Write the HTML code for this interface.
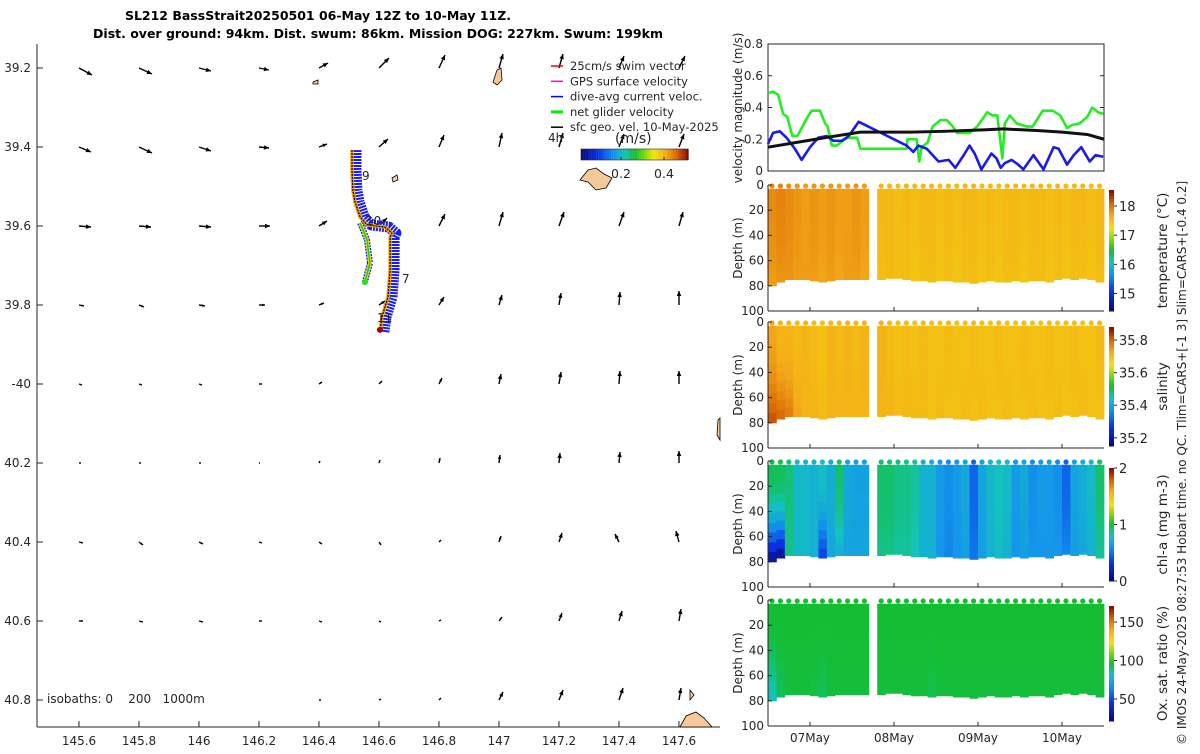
<!DOCTYPE html>
<html><head><meta charset="utf-8">
<style>
body{margin:0;background:#fff;width:1200px;height:750px;overflow:hidden;font-family:"DejaVu Sans","Liberation Sans",sans-serif;}
svg text{font-family:"DejaVu Sans","Liberation Sans",sans-serif;fill:#262626;}
</style></head>
<body>
<svg id="fig" width="1200" height="750" viewBox="0 0 1200 750" xmlns="http://www.w3.org/2000/svg">
<text x="318" y="20" font-size="12.5" font-weight="bold" text-anchor="middle" style="fill:#000">SL212 BassStrait20250501 06-May 12Z to 10-May 11Z.</text>
<text x="378" y="38" font-size="12.5" font-weight="bold" text-anchor="middle" style="fill:#000">Dist. over ground: 94km. Dist. swum: 86km. Mission DOG: 227km. Swum: 199km</text>
<g id="map"></g>
<g id="vel"></g>
<g id="heat"></g>
<text transform="translate(1186,745) rotate(-90)" font-size="12">© IMOS 24-May-2025 08:27:53 Hobart time. no QC. Tlim=CARS+[-1 3] Slim=CARS+[-0.4 0.2]</text>
</svg>
<script>
// ===== Map data =====
const gridLons=[145.6,145.8,146,146.2,146.4,146.6,146.8,147,147.2,147.4,147.6];
const gridLats=[39.2,39.4,39.6,39.8,40,40.2,40.4,40.6,40.8];
const arrowU=[
[13,13,12,10,9,10,6,4,4,5,6],
[12,13,12,10,8,9,5,3,4,5,5],
[12,12,12,11,8,8,6,4,5,5,4],
[5,5,6,6,5,6,5,3,2,1,0],
[3,3,3,3,3,3,3,2,2,1,0],
[2,2,2,1,1,1,1,1,1,1,0],
[4,4,4,3,3,2,2,2,3,-4,-3],
[4,4,4,3,3,2,2,3,3,3,2],
[0,0,0,0,2,2,2,4,4,4,2]];
const arrowV=[
[-7,-6,-3,-2,5,10,13,14,14,12,12],
[-5,-6,-4,-1,3,8,12,14,14,13,13],
[-1,-1,-1,0,5,8,12,14,14,14,14],
[-1,-2,-1,0,2,4,8,10,12,13,14],
[-1,-1,-1,0,2,3,6,10,12,13,13],
[0,0,0,0,2,3,5,8,10,11,12],
[-1,-3,-2,-1,-2,-3,2,6,9,8,11],
[0,-1,-1,0,-1,-1,1,4,8,10,12],
[0,0,0,0,0,1,2,8,10,12,12]];
const trackLon=[146.603,146.61,146.63,146.637,146.637,146.643,146.62,146.56,146.537,146.52,146.513,146.51,146.51];
const trackLat=[39.868,39.83,39.78,39.711,39.628,39.618,39.603,39.597,39.577,39.539,39.509,39.458,39.408];
const branchLon=[146.537,146.56,146.57,146.553];
const branchLat=[39.592,39.635,39.694,39.742];
const xTicks=[145.6,145.8,146,146.2,146.4,146.6,146.8,147,147.2,147.4,147.6];
const xTickLabels=["145.6","145.8","146","146.2","146.4","146.6","146.8","147","147.2","147.4","147.6"];
const yTickLabels=["39.2","39.4","39.6","39.8","-40","40.2","40.4","40.6","40.8"];
// ===== Velocity data =====
const greenT=[0,0.06,0.12,0.18,0.23,0.29,0.35,0.40,0.46,0.52,0.62,0.68,0.71,0.76,0.82,0.89,0.95,1.06,1.10,1.65,1.66,1.77,1.80,1.83,1.90,1.96,2.05,2.13,2.20,2.25,2.40,2.49,2.61,2.67,2.73,2.79,2.82,2.88,2.96,3.08,3.15,3.27,3.39,3.48,3.56,3.62,3.71,3.80,3.86,3.93,3.99];
const greenV=[0.49,0.5,0.48,0.36,0.34,0.22,0.22,0.27,0.33,0.38,0.38,0.30,0.28,0.16,0.16,0.19,0.21,0.21,0.14,0.14,0.20,0.20,0.06,0.15,0.18,0.28,0.32,0.32,0.28,0.24,0.24,0.28,0.37,0.35,0.35,0.08,0.30,0.35,0.30,0.28,0.28,0.38,0.38,0.35,0.27,0.29,0.30,0.34,0.40,0.37,0.36];
const blueT=[0,0.06,0.14,0.22,0.32,0.40,0.50,0.60,0.70,0.78,0.88,0.96,1.08,1.65,1.73,1.79,1.89,2.03,2.15,2.23,2.33,2.40,2.46,2.54,2.66,2.72,2.77,2.82,2.90,2.98,3.04,3.16,3.28,3.40,3.46,3.56,3.64,3.73,3.83,3.90,3.99];
const blueV=[0.17,0.24,0.25,0.21,0.14,0.07,0.15,0.21,0.22,0.19,0.19,0.22,0.31,0.16,0.12,0.16,0.14,0.06,0.07,0.02,0.10,0.16,0.11,0.01,0.11,0.08,0.02,0.05,0.07,0.04,0.01,0.10,0.01,0.15,0.14,0.04,0.10,0.15,0.06,0.10,0.09];
const blackT=[0,0.45,0.8,1.1,1.7,2.1,2.6,2.8,3.2,3.5,3.8,4];
const blackV=[0.15,0.19,0.22,0.245,0.245,0.25,0.26,0.265,0.255,0.245,0.23,0.2];
const velTicks=[0,0.2,0.4,0.6,0.8];
// ===== Section data (profile times in days since 06-May 12:00, 0.1 d steps) =====
const profT=[0,0.1,0.2,0.3,0.4,0.5,0.6,0.7,0.8,0.9,1.0,1.1,1.3,1.4,1.5,1.6,1.7,1.8,1.9,2.0,2.1,2.2,2.3,2.4,2.5,2.6,2.7,2.8,2.9,3.0,3.1,3.2,3.3,3.4,3.5,3.6,3.7,3.8,3.9];
const bottomDepth=[80,77,75,75,75,76,77,76,75,75,75,75,75,74,74,75,76,76,77,76,76,77,77,78,77,76,77,77,76,77,76,76,77,75,74,75,74,75,77];
const tempSurf=[17.9,17.95,17.9,17.85,17.8,17.85,17.8,17.85,17.8,17.8,17.85,17.8,17.6,17.6,17.55,17.6,17.55,17.6,17.6,17.55,17.6,17.55,17.6,17.6,17.55,17.6,17.55,17.6,17.6,17.55,17.6,17.6,17.55,17.6,17.55,17.6,17.6,17.55,17.6];
const tempDeep=[17.8,17.85,17.85,17.8,17.8,17.8,17.75,17.8,17.75,17.8,17.8,17.75,17.55,17.6,17.55,17.55,17.5,17.55,17.55,17.5,17.55,17.5,17.55,17.55,17.5,17.55,17.5,17.55,17.55,17.5,17.55,17.55,17.5,17.55,17.5,17.55,17.55,17.5,17.55];
const salSurf=[35.74,35.72,35.72,35.71,35.72,35.71,35.7,35.72,35.71,35.72,35.71,35.72,35.72,35.71,35.7,35.71,35.7,35.71,35.7,35.7,35.71,35.7,35.7,35.71,35.7,35.7,35.71,35.7,35.7,35.71,35.7,35.7,35.71,35.7,35.7,35.71,35.7,35.7,35.71];
const salDeep=[35.82,35.8,35.78,35.74,35.72,35.72,35.71,35.72,35.72,35.72,35.72,35.72,35.72,35.72,35.71,35.71,35.71,35.71,35.7,35.71,35.7,35.7,35.71,35.7,35.71,35.7,35.7,35.71,35.7,35.7,35.71,35.7,35.7,35.71,35.7,35.7,35.71,35.7,35.7];
const chlSurf=[0.95,0.95,0.9,0.75,0.75,0.72,0.78,0.7,0.92,0.68,0.65,0.65,0.92,0.92,0.88,0.88,0.85,0.72,0.72,0.62,0.58,0.62,0.68,0.45,0.66,0.75,0.8,0.76,0.62,0.68,0.58,0.62,0.62,0.58,0.45,0.66,0.7,0.76,0.92];
const chlDeep=[0.1,0.1,0.88,0.75,0.75,0.72,0.35,0.68,0.72,0.66,0.66,0.66,0.88,0.88,0.85,0.85,0.8,0.72,0.72,0.6,0.55,0.6,0.64,0.5,0.64,0.72,0.76,0.72,0.6,0.64,0.6,0.6,0.6,0.6,0.55,0.64,0.68,0.72,0.85];
const oxSurf=[96,96,96,96,96,96,96,96,96,96,96,96,96,96,96,96,96,96,96,96,96,96,96,96,96,96,96,96,96,96,96,96,96,96,96,96,96,96,96];
const oxDeep=[80,92,95,95,95,94,92,95,95,95,95,95,95,95,95,95,95,95,93,95,95,95,95,95,95,95,95,95,95,95,95,95,95,95,95,95,95,95,95];
const tempTicks=[15,16,17,18], salTicks=[35.2,35.4,35.6,35.8], chlTicks=[0,1,2], oxTicks=[50,100,150];
const dateTicks=[0.5,1.5,2.5,3.5], dateLabels=["07May","08May","09May","10May"];
const depthTicks=[0,20,40,60,80,100];

const NS="http://www.w3.org/2000/svg";
function mk(parent,tag,attrs,txt){const e=document.createElementNS(NS,tag);for(const k in attrs)e.setAttribute(k,attrs[k]);if(txt!==undefined)e.textContent=txt;parent.appendChild(e);return e;}
const CS=[[0,[10,10,130]],[0.15,[10,50,230]],[0.3,[20,150,235]],[0.4,[20,195,190]],[0.5,[20,190,50]],[0.6,[130,220,10]],[0.68,[240,230,10]],[0.8,[245,170,25]],[0.9,[215,100,5]],[1,[140,15,5]]];
function jet(v){v=Math.max(0,Math.min(1,v));for(let i=1;i<CS.length;i++){if(v<=CS[i][0]){const a=CS[i-1],b=CS[i];const f=(v-a[0])/(b[0]-a[0]);const c=a[1].map((x,k)=>Math.round(x+(b[1][k]-x)*f));return `rgb(${c[0]},${c[1]},${c[2]})`;}}return 'rgb(140,15,5)';}

// ===== Map =====
const map=document.getElementById('map');
const mx=lon=>79+(lon-145.6)*300, my=lat=>68+(lat-39.2)*395;
mk(map,'line',{x1:37,y1:44,x2:37,y2:727,stroke:'#262626','stroke-width':1});
mk(map,'line',{x1:37,y1:727,x2:720,y2:727,stroke:'#262626','stroke-width':1});
xTicks.forEach((t,i)=>{const x=mx(t);mk(map,'line',{x1:x,y1:727,x2:x,y2:721,stroke:'#262626'});
 const tl=mk(map,'text',{x:x,y:745,'font-size':12,'text-anchor':'middle'},xTickLabels[i]);});
gridLats.forEach((t,i)=>{const y=my(t);mk(map,'line',{x1:37,y1:y,x2:43,y2:y,stroke:'#262626'});
 const tl=mk(map,'text',{x:31,y:y+4,'font-size':12,'text-anchor':'end'},yTickLabels[i]);});
const lands=[[[493,82],[497,70],[501,68],[502,80],[497,85]],[[580,180],[588,170],[596,168],[604,174],[612,178],[606,188],[596,190],[588,182]],[[680,727],[686,716],[696,712],[704,718],[712,727]],[[690,690],[694,695],[690,700]],[[718,420],[720,418],[720,440],[717,435]],[[392,178],[397,175],[398,180],[393,182]],[[313,82],[318,80],[318,84],[313,84]]];
lands.forEach(p=>{const e=mk(map,'polygon',{points:p.map(q=>q.join(',')).join(' '),fill:'#f6c99b',stroke:'#000','stroke-width':0.8});});
gridLats.forEach((lat,r)=>gridLons.forEach((lon,c)=>{
 const u=arrowU[r][c],v=arrowV[r][c];if(u===0&&v===0)return;
 const x0=mx(lon),y0=my(lat),x1=x0+u,y1=y0-v;const L=Math.hypot(u,v),ux=u/L,uy=-v/L,h=Math.min(5,L*0.5);
 const g=mk(map,'g',{});
 mk(g,'line',{x1:x0,y1:y0,x2:x1,y2:y1,stroke:'#000','stroke-width':1.4});
 mk(g,'polygon',{points:`${x1},${y1} ${x1-h*ux+h*0.45*uy},${y1-h*uy-h*0.45*ux} ${x1-h*ux-h*0.45*uy},${y1-h*uy+h*0.45*ux}`,fill:'#000'});
}));
const tp=trackLon.map((l,i)=>`${mx(l)},${my(trackLat[i])}`).join(' ');
const bp=branchLon.map((l,i)=>`${mx(l)},${my(branchLat[i])}`).join(' ');
let e;
e=mk(map,'polyline',{points:tp,fill:'none',stroke:'#1a1aff','stroke-width':11,'stroke-linejoin':'round','transform':'translate(4,0)','stroke-dasharray':'2,1'});
e=mk(map,'polyline',{points:bp,fill:'none',stroke:'#1a1aff','stroke-width':6,'stroke-linejoin':'round','stroke-dasharray':'2,1'});
e=mk(map,'polyline',{points:tp,fill:'none',stroke:'#f5a300','stroke-width':3.5,'stroke-linejoin':'round'});
e=mk(map,'polyline',{points:bp,fill:'none',stroke:'#e0e000','stroke-width':3.5});
mk(map,'polyline',{points:tp,fill:'none',stroke:'#000','stroke-width':1.2,'stroke-dasharray':'2,1'});
mk(map,'polyline',{points:bp,fill:'none',stroke:'#22cc22','stroke-width':1.5});
mk(map,'circle',{cx:mx(trackLon[0]),cy:my(trackLat[0])-2,r:3,fill:'#b00000'});
mk(map,'circle',{cx:mx(branchLon[3]),cy:my(branchLat[3]),r:3,fill:'#22dd22'});
[["9",362,180],["10",366,225],["7",402,283],["11",377,322]].forEach(d=>{const t=mk(map,'text',{x:d[1],y:d[2],'font-size':12},d[0]);});
const leg=[["25cm/s swim vector","#ff0000"],["GPS surface velocity","#ff00ff"],["dive-avg current veloc.","#0000ff"],["net glider velocity","#00ee00"],["sfc geo. vel. 10-May-2025","#000"]];
leg.forEach((l,i)=>{const y=66+i*15.3;const g=mk(map,'g',{});
 mk(g,'line',{x1:551,y1:y,x2:563,y2:y,stroke:l[1],'stroke-width':i==3?3:1.5});mk(g,'text',{x:570,y:y+4,'font-size':11.5},l[0]);});
e=mk(map,'text',{x:548,y:142,'font-size':12},"4h");
e=mk(map,'text',{x:615,y:143,'font-size':14},"(m/s)");
for(let i=0;i<50;i++){mk(map,'rect',{x:581+i*2.15,y:149,width:2.3,height:11,fill:jet(i/49)});}
mk(map,'rect',{x:581,y:149,width:107,height:11,fill:'none',stroke:'#262626','stroke-width':0.6});
[[0.2,621],[0.4,664]].forEach(d=>{mk(map,'line',{x1:d[1],y1:160,x2:d[1],y2:157,stroke:'#262626'});const t=mk(map,'text',{x:d[1],y:178,'font-size':12.5,'text-anchor':'middle'},String(d[0]));});
e=mk(map,'text',{x:47,y:703,'font-size':12,'xml:space':'preserve',style:'white-space:pre'},"isobaths: 0    200   1000m");

// ===== Velocity panel =====
const vel=document.getElementById('vel');
const X0=768,X1=1104,tx=t=>X0+t*84;
const vy=v=>171-v*(127/0.8);
mk(vel,'rect',{x:X0,y:44,width:X1-X0,height:127,fill:'none',stroke:'#262626','stroke-width':1});
velTicks.forEach(t=>{const y=vy(t);mk(vel,'line',{x1:X0,y1:y,x2:X0+4,y2:y,stroke:'#262626'});mk(vel,'line',{x1:X1,y1:y,x2:X1-4,y2:y,stroke:'#262626'});
 const tl=mk(vel,'text',{x:X0-5,y:y+4,'font-size':12,'text-anchor':'end'},String(t));});
e=mk(vel,'text',{transform:'translate(742,108) rotate(-90)','font-size':12,'text-anchor':'middle'},"velocity magnitude (m/s)");
function line(T,V,col,w,name){const el=mk(vel,'polyline',{points:T.map((t,i)=>`${tx(t)},${vy(V[i])}`).join(' '),fill:'none',stroke:col,'stroke-width':w,'stroke-linejoin':'round'});}
line(greenT,greenV,'#22ee22',2.6,'net-glider-velocity-line');
line(blueT,blueV,'#1a1aee',2.6,'dive-avg-current-line');
line(blackT,blackV,'#111',3,'sfc-geo-velocity-line');

// ===== Section panels =====
const heat=document.getElementById('heat');
const panels=[
 {top:185,name:'temperature',s:tempSurf,d:tempDeep,lo:14.4,hi:18.55,ticks:tempTicks,label:"temperature (°C)",cb:[190,311]},
 {top:322,name:'salinity',s:salSurf,d:salDeep,lo:35.15,hi:35.88,ticks:salTicks,label:"salinity",cb:[327,446]},
 {top:461,name:'chl-a',s:chlSurf,d:chlDeep,lo:0,hi:2,ticks:chlTicks,label:"chl-a (mg m-3)",cb:[468,581]},
 {top:600,name:'oxygen',s:oxSurf,d:oxDeep,lo:21.4,hi:170.8,ticks:oxTicks,label:"Ox. sat. ratio (%)",cb:[606,721]}];
panels.forEach(p=>{
 const g=mk(heat,'g',{});
 const H=126,dy=d=>p.top+d*H/100;
 const norm=v=>(v-p.lo)/(p.hi-p.lo);
 profT.forEach((t,i)=>{
  const next=(i+1<profT.length&&profT[i+1]-t<0.15)?profT[i+1]:t+0.1;
  const x=tx(t),w=Math.min(tx(next),tx(4))-x+0.4;const bd=bottomDepth[i];const n=10;
  for(let k=0;k<n;k++){const d0=3+k*(bd-3)/n;const f=k/(n-1);
   const c=mk(g,'rect',{x:x,y:dy(d0),width:w,height:(bd-3)/n*H/100+0.5,fill:jet(norm(p.s[i]+(p.d[i]-p.s[i])*f*f))});
   }
  const cx=tx(t)+4;if(cx<tx(4)) mk(g,'circle',{cx:cx,cy:dy(0)+1,r:2.6,fill:jet(norm(p.s[i]))});
 });
 mk(g,'line',{x1:X0,y1:p.top,x2:X0,y2:p.top+H,stroke:'#262626'});
 mk(g,'line',{x1:X0,y1:p.top+H,x2:X1,y2:p.top+H,stroke:'#262626'});
 depthTicks.forEach(d=>{mk(g,'line',{x1:X0,y1:dy(d),x2:X0+4,y2:dy(d),stroke:'#262626'});
  const tl=mk(g,'text',{x:X0-4,y:dy(d)+4,'font-size':12,'text-anchor':'end'},String(d));});
 dateTicks.forEach(t=>mk(g,'line',{x1:tx(t),y1:p.top+H,x2:tx(t),y2:p.top+H-4,stroke:'#262626'}));
 const yt=mk(g,'text',{transform:`translate(742,${p.top+H/2}) rotate(-90)`,'font-size':12,'text-anchor':'middle'},"Depth (m)");
 const [c0,c1]=p.cb;const cb=mk(g,'g',{});
 for(let k=0;k<40;k++){mk(cb,'rect',{x:1109,y:c0+k*(c1-c0)/40,width:5,height:(c1-c0)/40+0.5,fill:jet(1-k/39)});}
 p.ticks.forEach(t=>{const y=c1-(t-p.lo)/(p.hi-p.lo)*(c1-c0);mk(cb,'line',{x1:1114,y1:y,x2:1117,y2:y,stroke:'#262626'});
  const tl=mk(cb,'text',{x:1119,y:y+5,'font-size':13},String(t));});
 const lb=mk(cb,'text',{transform:`translate(1167,${(c0+c1)/2}) rotate(-90)`,'font-size':13.5,'text-anchor':'middle'},p.label);
});
dateTicks.forEach((t,i)=>{const tl=mk(heat,'text',{x:tx(t),y:742,'font-size':12,'text-anchor':'middle'},dateLabels[i]);});
</script>
</body></html>
